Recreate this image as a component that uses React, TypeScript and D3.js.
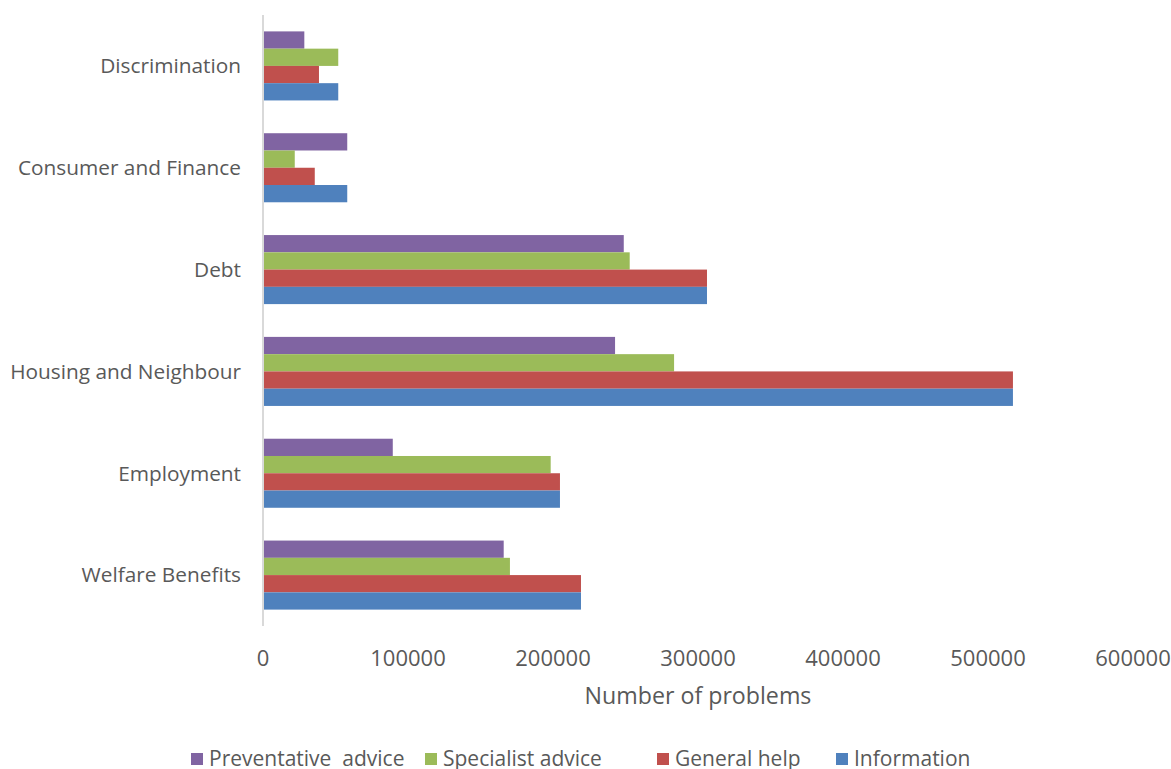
import React, { useEffect, useRef } from "react";
import * as d3 from "d3";

const categories = [
  "Discrimination",
  "Consumer and Finance",
  "Debt",
  "Housing and Neighbour",
  "Employment",
  "Welfare Benefits",
];

// series, in order from top to bottom inside each group
const seriesNames = ["Preventative  advice", "Specialist advice", "General help", "Information"];
const seriesColors = ["#8064a2", "#9bbb59", "#c0504d", "#4f81bd"];

const preventative = [28500, 58100, 248800, 242800, 89500, 166000];
const specialist = [51900, 21900, 252900, 283500, 198400, 170300];
const generalHelp = [38600, 35700, 306200, 517200, 204800, 219300];
const information = [51900, 58100, 306200, 517200, 204800, 219300];

const xTicks = [0, 100000, 200000, 300000, 400000, 500000, 600000];

export default function App() {
  const ref = useRef<SVGSVGElement>(null);

  useEffect(() => {
    const svg = d3.select(ref.current);
    svg.selectAll("*").remove();

    const values = [preventative, specialist, generalHelp, information];
    const font = "'Open Sans', sans-serif";
    const textColor = "#595959";

    const x = d3.scaleLinear().domain([0, 600000]).range([263, 1133]);
    const y = d3.scaleBand().domain(categories).range([15, 626]).paddingInner(0.322).paddingOuter(0.161);
    const yInner = d3.scaleBand().domain(seriesNames).range([0, y.bandwidth()]);

    // bars
    const groups = svg
      .append("g")
      .selectAll("g")
      .data(categories)
      .join("g")
      .attr("transform", d => `translate(0,${y(d)})`);

    groups
      .selectAll("rect")
      .data((c, ci) => seriesNames.map((s, si) => ({ s, si, v: values[si][ci] })))
      .join("rect")
      .attr("x", x(0))
      .attr("y", d => yInner(d.s)!)
      .attr("width", d => x(d.v) - x(0))
      .attr("height", yInner.bandwidth())
      .attr("fill", d => seriesColors[d.si]);

    // vertical axis line
    svg
      .append("line")
      .attr("x1", x(0))
      .attr("x2", x(0))
      .attr("y1", 15)
      .attr("y2", 626)
      .attr("stroke", "#d9d9d9")
      .attr("stroke-width", 2);

    // category labels
    svg
      .append("g")
      .selectAll("text")
      .data(categories)
      .join("text")
      .attr("x", 241)
      .attr("y", d => y(d)! + y.bandwidth() / 2)
      .attr("dy", "0.35em")
      .attr("text-anchor", "end")
      .attr("font-family", font)
      .attr("font-size", 20.8)
      .attr("fill", textColor)
      .text(d => d);

    // x tick labels
    svg
      .append("g")
      .selectAll("text")
      .data(xTicks)
      .join("text")
      .attr("x", d => x(d))
      .attr("y", 666)
      .attr("text-anchor", "middle")
      .attr("font-family", font)
      .attr("font-size", 22)
      .attr("fill", textColor)
      .text(d => String(d));

    svg
      .append("text")
      .attr("x", 698)
      .attr("y", 704)
      .attr("text-anchor", "middle")
      .attr("font-family", font)
      .attr("font-size", 23.2)
      .attr("fill", textColor)
      .text("Number of problems");

    // legend
    const legendX = [191, 425, 657, 836];
    const legend = svg
      .append("g")
      .selectAll("g")
      .data(seriesNames)
      .join("g")
      .attr("transform", (d, i) => `translate(${legendX[i]},766)`);
    legend
      .append("rect")
      .attr("x", 0)
      .attr("y", -13)
      .attr("width", 12)
      .attr("height", 12)
      .attr("fill", (d, i) => seriesColors[i]);
    legend
      .append("text")
      .attr("x", 18)
      .attr("y", 0)
      .attr("font-family", font)
      .attr("font-size", 21)
      .attr("fill", textColor)
      .style("white-space", "pre")
      .text(d => d);
  }, []);

  return (
    <svg
      ref={ref}
      width={1171}
      height={769}
      style={{ position: "absolute", left: 0, top: 0, background: "#fff" }}
    />
  );
}
